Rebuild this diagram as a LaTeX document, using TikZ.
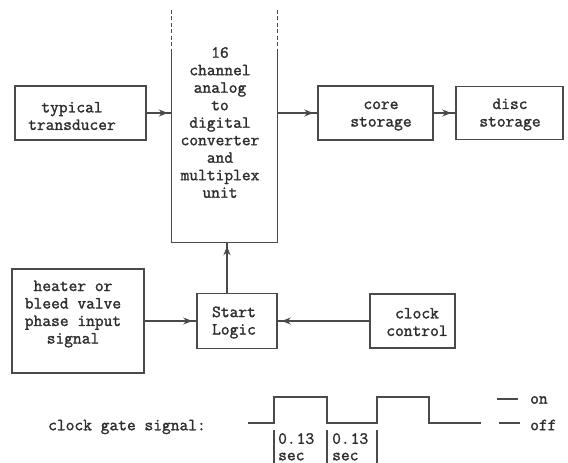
\documentclass[tikz,border=0pt]{standalone}
\usepackage{fontspec}
\newfontfamily\typew{Latin Modern Mono}[AutoFakeBold=1.6]
\usetikzlibrary{arrows.meta,decorations.markings,calc}
\definecolor{ink}{HTML}{4A4A4A}
\definecolor{txt}{HTML}{2E2E2E}
\tikzset{
  box/.style={draw=ink, line width=1.5pt, inner sep=0pt},
  lbl/.style={text=txt, font=\typew\bfseries\fontsize{17}{17.5}\selectfont, align=center, inner sep=0pt},
  wire/.style={draw=ink, line width=1.3pt},
  dashwire/.style={wire, dash pattern=on 4pt off 2.5pt},
  arr/.style={wire, postaction={decorate}, decoration={markings, mark=at position -4pt with {\arrow[ink]{Stealth[length=9pt,width=7pt]}}}},
}
\begin{document}
\begin{tikzpicture}[x=1pt,y=-1pt]
\fill[white] (0,0) rectangle (568,463);
\useasboundingbox (0,0) rectangle (568,463);

% top row
\node[box, minimum width=131pt, minimum height=54pt] (trans) at (80.5,113) {};
\node[lbl] (transT) at (72,116) {typical\\transducer};

\node[inner sep=0pt, minimum width=105pt, minimum height=232pt] (conv) at (224.5,126) {};
\node[lbl] (convT) at (220,122.5) {16\\channel\\analog\\to\\digital\\converter\\and\\multiplex\\unit};
\draw[dashwire] (conv.north west) -- ($(conv.north west)+(0,40)$);
\draw[dashwire] (conv.north east) -- ($(conv.north east)+(0,40)$);
\draw[wire] ($(conv.north west)+(0,40)$) -- (conv.south west) -- (conv.south east) -- ($(conv.north east)+(0,40)$);

\node[box, minimum width=115pt, minimum height=54pt] (core) at (375.5,113) {};
\node[lbl] (coreT) at (381,116) {core\\storage};

\node[box, minimum width=107pt, minimum height=53pt] (disc) at (509.5,113) {};
\node[lbl] (discT) at (510,114.5) {disc\\storage};

% middle row
\node[box, minimum width=132pt, minimum height=104pt] (heater) at (78,321) {};
\node[lbl] (heaterT) at (73,314) {heater or\\bleed valve\\phase input\\signal};

\node[box, minimum width=80pt, minimum height=55pt] (start) at (237,321) {};
\node[lbl] (startT) at (234,322.5) {Start\\Logic};

\node[box, minimum width=85pt, minimum height=54pt] (clock) at (412.5,321) {};
\node[lbl] (clockT) at (417,322) {clock\\control};

% connectors
\draw[arr] (trans.east) -- (trans.east -| conv.west);
\draw[arr] (conv.east |- core.west) -- (core.west);
\draw[arr] (core.east) -- (core.east -| disc.west);
\draw[arr] (heater.east) -- (heater.east -| start.west);
\draw[arr] (clock.west) -- (clock.west -| start.east);
\coordinate (up) at ($(start.north)+(-10,0)$);
\draw[arr] (up) -- (up |- conv.south);

% clock gate signal
\node[lbl] (cgs) at (127,427) {clock gate signal:};
\draw[wire] (248,423) -- (274,423) -- (274,397) -- (327,397) -- (327,423) -- (377,423) -- (377,397) -- (429,397) -- (429,423) -- (481,423);
\draw[wire] (274,430) -- (274,470);
\draw[wire] (327,430) -- (327,470);
\draw[wire] (377,430) -- (377,470);
\node[lbl, align=left, anchor=north west, font=\typew\bfseries\fontsize{17}{16.5}\selectfont] (p1) at (278,433) {0.\hspace{1pt}13\\sec};
\node[lbl, align=left, anchor=north west, font=\typew\bfseries\fontsize{17}{16.5}\selectfont] (p2) at (332,433) {0.\hspace{1pt}13\\sec};
\draw[wire] (497,399) -- (518,399);
\draw[wire] (499,423) -- (520,423);
\node[lbl, anchor=west] (on) at (530,400) {on};
\node[lbl, anchor=west] (off) at (530,425) {off};
\end{tikzpicture}
\end{document}
